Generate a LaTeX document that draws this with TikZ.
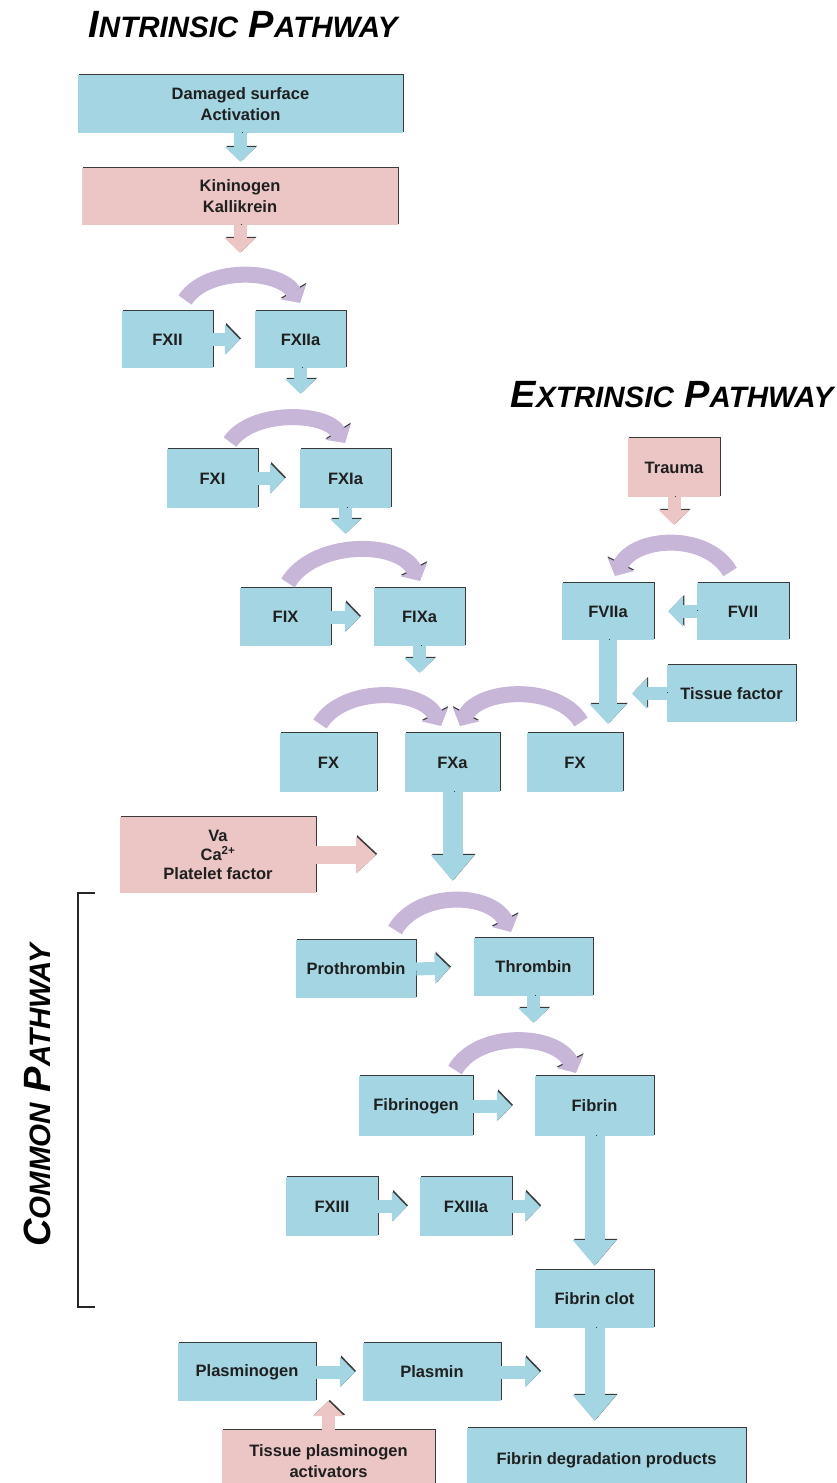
\documentclass[tikz,border=0pt]{standalone}
\usepackage{fontspec}
\setmainfont{Liberation Sans}
\usetikzlibrary{arrows.meta,shadows,calc}
\definecolor{cblue}{HTML}{A4D5E2}
\definecolor{cpink}{HTML}{ECC5C5}
\definecolor{cpurple}{HTML}{C7B6D8}
\definecolor{cedge}{HTML}{3A3A3A}
\newcommand{\smc}[1]{{\fontsize{29.5}{30}\selectfont #1}}
\begin{document}
\begin{tikzpicture}[x=1pt,y=-1pt,
  box/.style={rectangle, inner sep=0pt, align=center, text=black!88,
    font=\fontsize{16.5}{21}\selectfont\bfseries,
    drop shadow={shadow xshift=1.4pt, shadow yshift=1.4pt, fill=cedge, opacity=1}},
  bbox/.style={box, fill=cblue},
  pbox/.style={box, fill=cpink},
  title/.style={inner sep=0pt, font=\fontsize{38}{38}\selectfont\bfseries\itshape},
  shad/.style={preaction={draw=cedge, transform canvas={xshift=1.2pt,yshift=1.2pt}}},
  sarrow/.style={shad, line width=13pt, -{Triangle[width=30pt,length=15pt]}},
  marrow/.style={shad, line width=18pt, -{Triangle[width=36pt,length=20pt]}},
  larrow/.style={shad, line width=20pt, -{Triangle[width=42pt,length=26pt]}},
  curv/.style={preaction={draw=cedge, transform canvas={yshift=1.4pt}}, draw=cpurple,
    line width=16pt, -{Triangle[width=29pt,length=13pt]}},
]
\useasboundingbox (0,0) rectangle (836,1483);

% titles
\node[title] (tin) at (243,25) {I\smc{NTRINSIC} P\smc{ATHWAY}};
\node[title] (tex) at (672,395) {E\smc{XTRINSIC} P\smc{ATHWAY}};
\node[title, rotate=90] (tcom) at (37,1095) {C\smc{OMMON} P\smc{ATHWAY}};
\draw[line width=1.8pt, black!85] (95,893) -- (78,893) -- (78,1307) -- (95,1307);

% boxes
\node[bbox, minimum width=325pt, minimum height=58pt] (ds) at (240.5,104) {Damaged surface\\Activation};
\node[pbox, minimum width=316pt, minimum height=57pt] (kk) at (240,196.5) {Kininogen\\Kallikrein};
\node[bbox, minimum width=91pt, minimum height=57pt] (fxii) at (167.5,339.5) {FXII};
\node[bbox, minimum width=91pt, minimum height=57pt] (fxiia) at (300.5,339.5) {FXIIa};
\node[bbox, minimum width=91pt, minimum height=59pt] (fxi) at (212.5,478.5) {FXI};
\node[bbox, minimum width=91pt, minimum height=59pt] (fxia) at (345.5,478.5) {FXIa};
\node[bbox, minimum width=91pt, minimum height=58pt] (fix) at (285.5,617) {FIX};
\node[bbox, minimum width=91pt, minimum height=58pt] (fixa) at (419.5,617) {FIXa};
\node[bbox, minimum width=97pt, minimum height=59pt] (fxl) at (328.5,762.5) {FX};
\node[bbox, minimum width=95pt, minimum height=59pt] (fxa) at (452.5,762.5) {FXa};
\node[bbox, minimum width=96pt, minimum height=59pt] (fxr) at (575,762.5) {FX};
\node[pbox, minimum width=196pt, minimum height=76pt, font=\fontsize{16.5}{19}\selectfont\bfseries] (va) at (218,855) {Va\\Ca\textsuperscript{2+}\\Platelet factor};
\node[pbox, minimum width=92pt, minimum height=59pt] (trauma) at (674,467.5) {Trauma};
\node[bbox, minimum width=92pt, minimum height=57pt] (fviia) at (608,611.5) {FVIIa};
\node[bbox, minimum width=92pt, minimum height=57pt] (fvii) at (743,611.5) {FVII};
\node[bbox, minimum width=129pt, minimum height=57pt] (tf) at (731.5,693.5) {Tissue factor};
\node[bbox, minimum width=120pt, minimum height=58pt] (proth) at (356,969) {Prothrombin};
\node[bbox, minimum width=119pt, minimum height=58pt] (throm) at (533.5,967) {Thrombin};
\node[bbox, minimum width=114pt, minimum height=60pt] (fibgen) at (416,1106) {Fibrinogen};
\node[bbox, minimum width=119pt, minimum height=60pt] (fibrin) at (594.5,1106) {Fibrin};
\node[bbox, minimum width=92pt, minimum height=59pt] (fxiii) at (332,1206.5) {FXIII};
\node[bbox, minimum width=92pt, minimum height=59pt] (fxiiia) at (466,1206.5) {FXIIIa};
\node[bbox, minimum width=119pt, minimum height=58pt] (clot) at (594.5,1299) {Fibrin clot};
\node[bbox, minimum width=138pt, minimum height=58pt] (plg) at (247,1372) {Plasminogen};
\node[bbox, minimum width=138pt, minimum height=58pt] (pls) at (432,1372) {Plasmin};
\node[pbox, minimum width=213pt, minimum height=62pt] (tpa) at (328.5,1461) {Tissue plasminogen\\activators};
\node[bbox, minimum width=279pt, minimum height=64pt] (fdp) at (606.5,1460) {Fibrin degradation products};

% free ends
\coordinate (e1) at (240.5,162);
\coordinate (e2) at (240,253);
\coordinate (e3) at (300.5,394);
\coordinate (e4) at (345.5,534);
\coordinate (e5) at (419.5,673);
\coordinate (e6) at (452.5,881);
\coordinate (e7) at (376,855);
\coordinate (e8) at (674,525);
\coordinate (e9) at (608,724);
\coordinate (e10) at (632,693.5);
\coordinate (e11) at (533.5,1023);
\coordinate (e12) at (594.5,1266);
\coordinate (e13) at (540,1206.5);
\coordinate (e14) at (594.5,1421);
\coordinate (e15) at (540,1372);
\coordinate (e16) at (328.5,1401);

% block arrows
\draw[sarrow, draw=cblue] (ds.south) -- (e1);
\draw[sarrow, draw=cpink] (kk.south) -- (e2);
\draw[sarrow, draw=cblue, shorten >=15pt] (fxii.east) -- (fxiia.west);
\draw[sarrow, draw=cblue] (fxiia.south) -- (e3);
\draw[sarrow, draw=cblue, shorten >=15pt] (fxi.east) -- (fxia.west);
\draw[sarrow, draw=cblue] (fxia.south) -- (e4);
\draw[sarrow, draw=cblue, shorten >=14pt] (fix.east) -- (fixa.west);
\draw[sarrow, draw=cblue] (fixa.south) -- (e5);
\draw[larrow, draw=cblue] (fxa.south) -- (e6);
\draw[marrow, draw=cpink] (va.east) -- (e7);
\draw[sarrow, draw=cpink] (trauma.south) -- (e8);
\draw[sarrow, draw=cblue, shorten >=14pt] (fvii.west) -- (fviia.east);
\draw[marrow, draw=cblue] (fviia.south) -- (e9);
\draw[sarrow, draw=cblue] (tf.west) -- (e10);
\draw[sarrow, draw=cblue, shorten >=24pt] (proth.east) -- (throm.west);
\draw[sarrow, draw=cblue] (throm.south) -- (e11);
\draw[sarrow, draw=cblue, shorten >=23pt] (fibgen.east) -- (fibrin.west);
\draw[larrow, draw=cblue] (fibrin.south) -- (e12);
\draw[sarrow, draw=cblue, shorten >=13pt] (fxiii.east) -- (fxiiia.west);
\draw[sarrow, draw=cblue] (fxiiia.east) -- (e13);
\draw[larrow, draw=cblue] (clot.south) -- (e14);
\draw[sarrow, draw=cblue, shorten >=8pt] (plg.east) -- (pls.west);
\draw[sarrow, draw=cblue] (pls.east) -- (e15);
\draw[sarrow, draw=cpink] (tpa.north) -- (e16);

% curved arrows
\coordinate (c1s) at (185,300); \coordinate (c1e) at (300,303);
\coordinate (c2s) at (230,442); \coordinate (c2e) at (345,443);
\coordinate (c3s) at (288,583); \coordinate (c3e) at (420,581);
\coordinate (c4s) at (320,724); \coordinate (c4e) at (441,726);
\coordinate (c5s) at (581,722); \coordinate (c5e) at (460,726);
\coordinate (c6s) at (730,572); \coordinate (c6e) at (615,576);
\coordinate (c7s) at (395,930); \coordinate (c7e) at (511,932);
\coordinate (c8s) at (455,1070); \coordinate (c8e) at (576,1073);
\draw[curv] (c1s) .. controls +(22,-34) and +(-20,-34) .. (c1e);
\draw[curv] (c2s) .. controls +(22,-32) and +(-20,-32) .. (c2e);
\draw[curv] (c3s) .. controls +(25,-42) and +(-22,-42) .. (c3e);
\draw[curv] (c4s) .. controls +(23,-38) and +(-20,-38) .. (c4e);
\draw[curv] (c5s) .. controls +(-23,-38) and +(20,-38) .. (c5e);
\draw[curv] (c6s) .. controls +(-23,-40) and +(20,-40) .. (c6e);
\draw[curv] (c7s) .. controls +(23,-40) and +(-20,-40) .. (c7e);
\draw[curv] (c8s) .. controls +(23,-40) and +(-20,-40) .. (c8e);
\end{tikzpicture}
\end{document}
